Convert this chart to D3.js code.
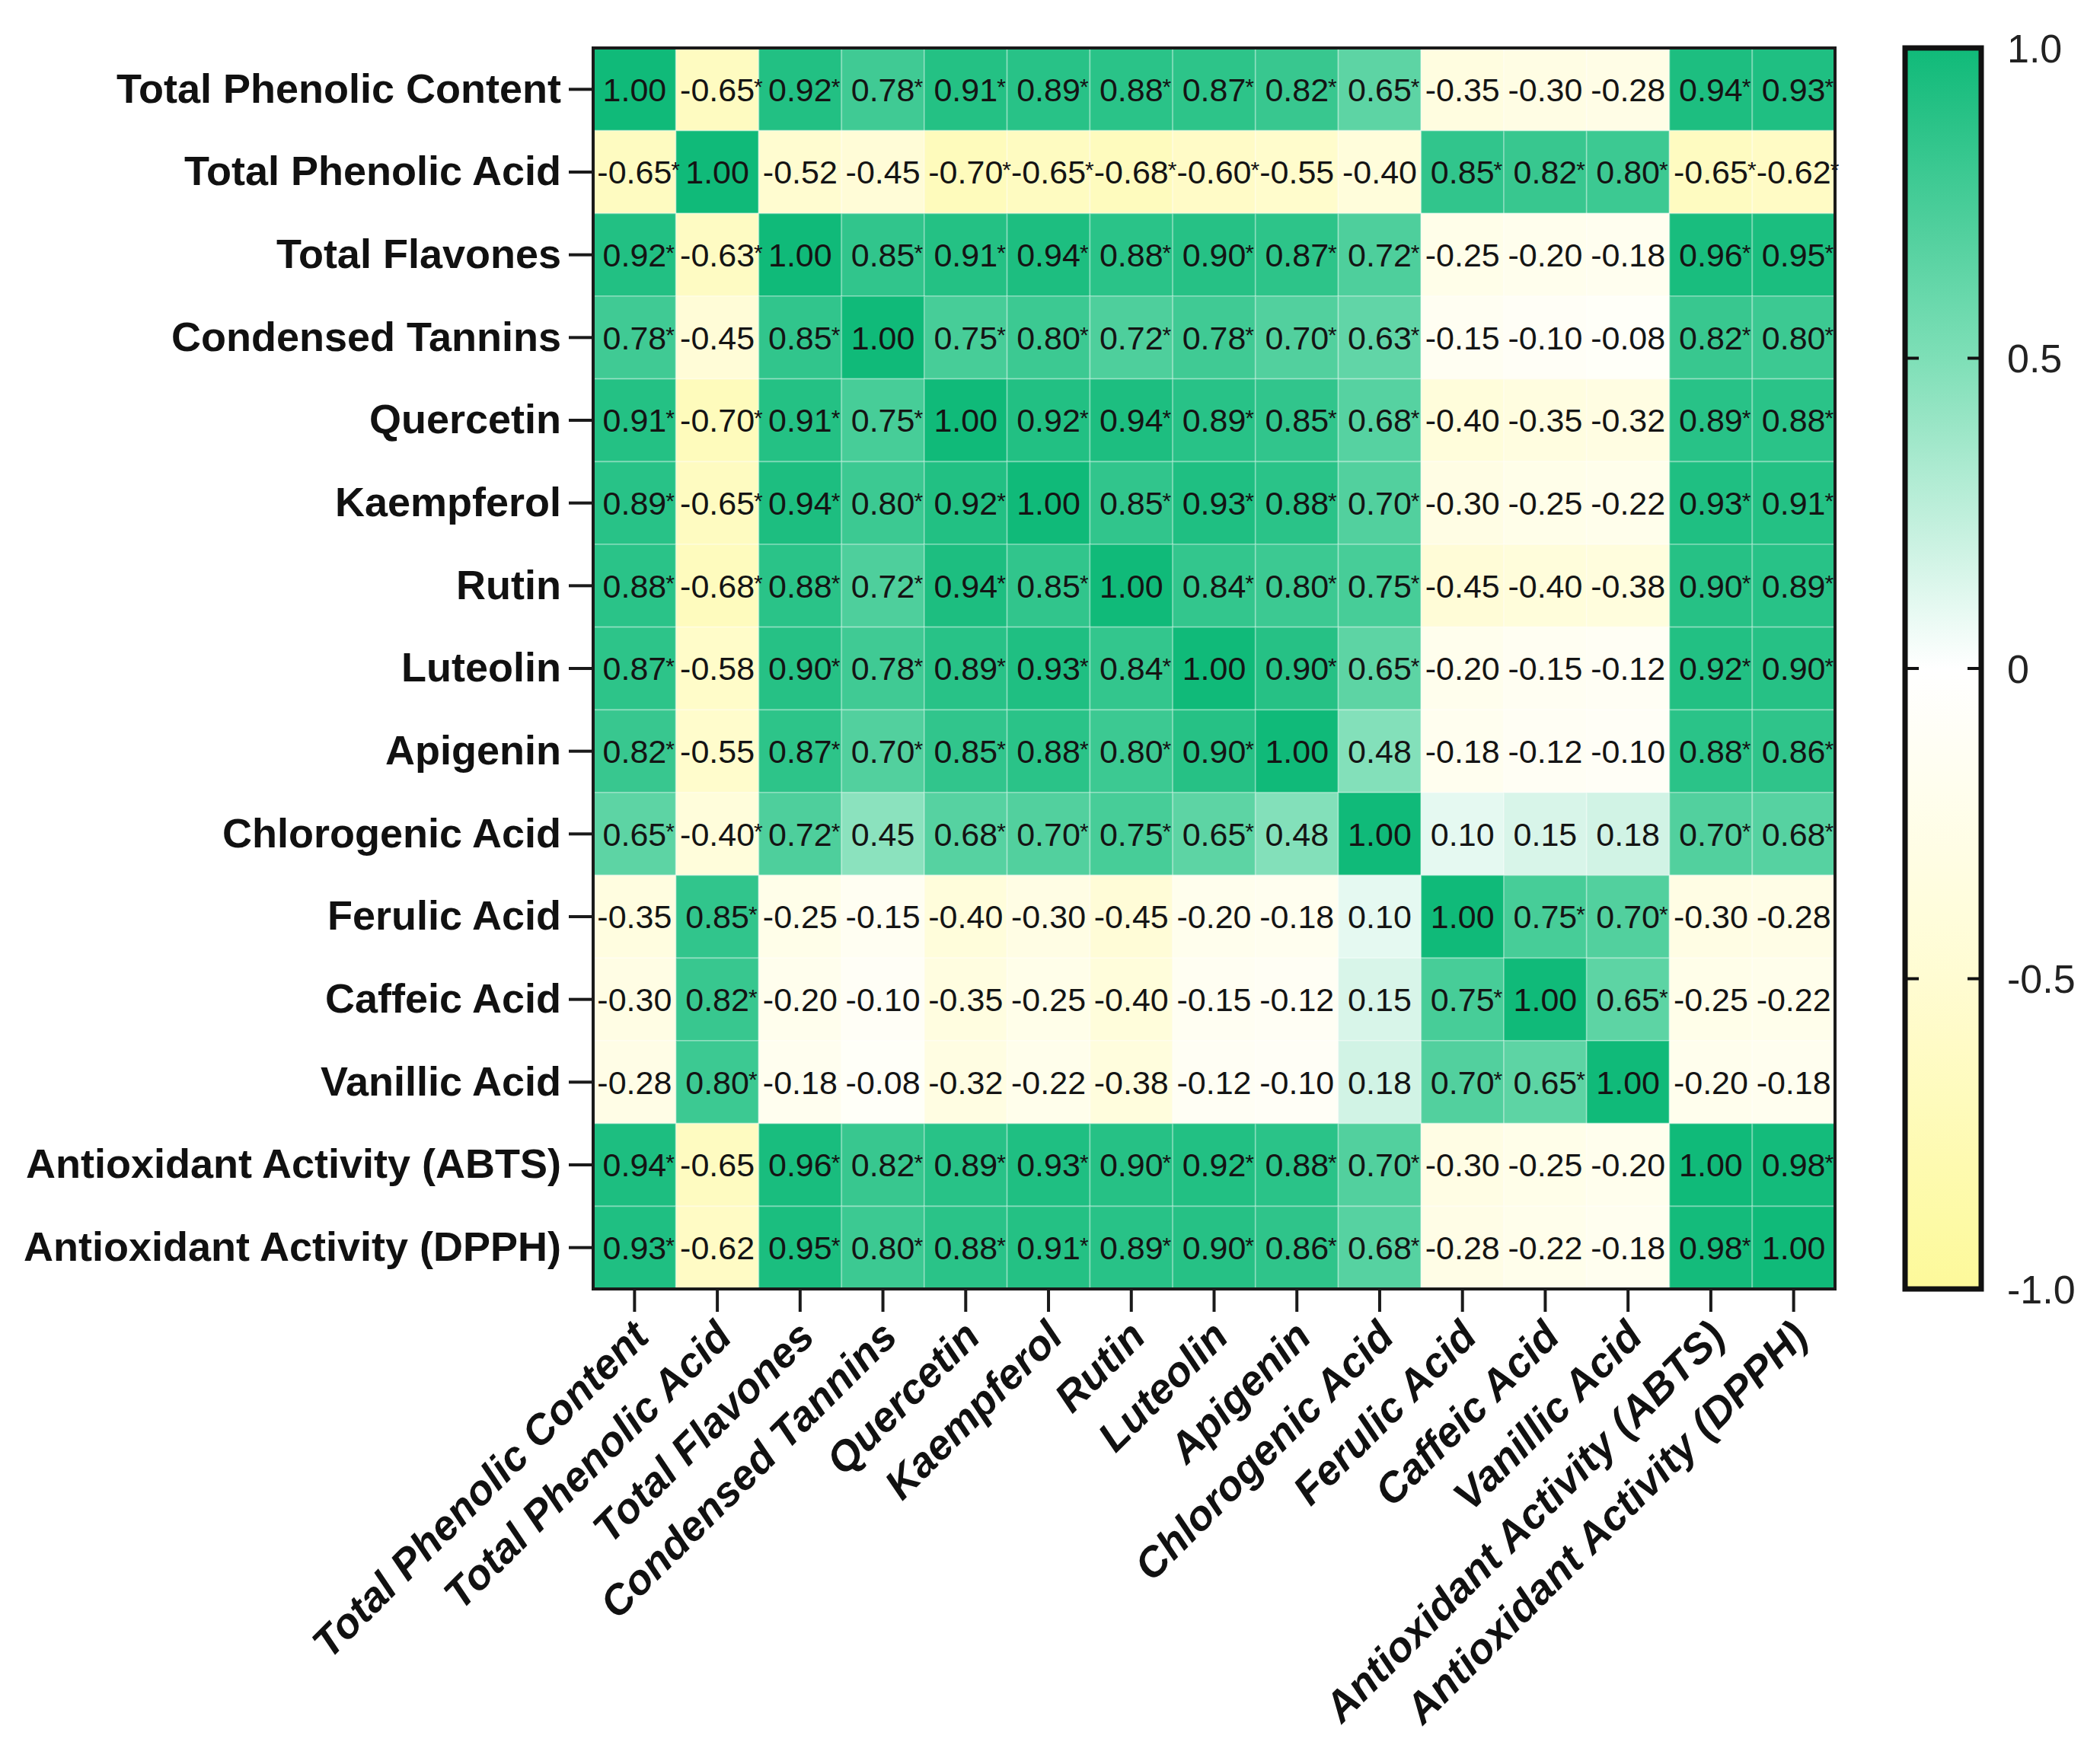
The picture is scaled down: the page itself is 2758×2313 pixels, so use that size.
<!DOCTYPE html>
<html lang="en">
<head>
    <meta charset="UTF-8">
    <title>Correlation heatmap</title>
    <script src="https://cdnjs.cloudflare.com/ajax/libs/d3/7.8.5/d3.min.js"></script>
    <style>
        body { margin: 0; background: #ffffff; }
    </style>
</head>
<body>

<div id="chart_holder"></div>

<script>
    var variables = ["Total Phenolic Content", "Total Phenolic Acid", "Total Flavones", "Condensed Tannins",
        "Quercetin", "Kaempferol", "Rutin", "Luteolin", "Apigenin", "Chlorogenic Acid",
        "Ferulic Acid", "Caffeic Acid", "Vanillic Acid", "Antioxidant Activity (ABTS)", "Antioxidant Activity (DPPH)"];

    // correlation values, one row per variable
    var corr = [
        [1.00, -0.65, 0.92, 0.78, 0.91, 0.89, 0.88, 0.87, 0.82, 0.65, -0.35, -0.30, -0.28, 0.94, 0.93],
        [-0.65, 1.00, -0.52, -0.45, -0.70, -0.65, -0.68, -0.60, -0.55, -0.40, 0.85, 0.82, 0.80, -0.65, -0.62],
        [0.92, -0.63, 1.00, 0.85, 0.91, 0.94, 0.88, 0.90, 0.87, 0.72, -0.25, -0.20, -0.18, 0.96, 0.95],
        [0.78, -0.45, 0.85, 1.00, 0.75, 0.80, 0.72, 0.78, 0.70, 0.63, -0.15, -0.10, -0.08, 0.82, 0.80],
        [0.91, -0.70, 0.91, 0.75, 1.00, 0.92, 0.94, 0.89, 0.85, 0.68, -0.40, -0.35, -0.32, 0.89, 0.88],
        [0.89, -0.65, 0.94, 0.80, 0.92, 1.00, 0.85, 0.93, 0.88, 0.70, -0.30, -0.25, -0.22, 0.93, 0.91],
        [0.88, -0.68, 0.88, 0.72, 0.94, 0.85, 1.00, 0.84, 0.80, 0.75, -0.45, -0.40, -0.38, 0.90, 0.89],
        [0.87, -0.58, 0.90, 0.78, 0.89, 0.93, 0.84, 1.00, 0.90, 0.65, -0.20, -0.15, -0.12, 0.92, 0.90],
        [0.82, -0.55, 0.87, 0.70, 0.85, 0.88, 0.80, 0.90, 1.00, 0.48, -0.18, -0.12, -0.10, 0.88, 0.86],
        [0.65, -0.40, 0.72, 0.45, 0.68, 0.70, 0.75, 0.65, 0.48, 1.00, 0.10, 0.15, 0.18, 0.70, 0.68],
        [-0.35, 0.85, -0.25, -0.15, -0.40, -0.30, -0.45, -0.20, -0.18, 0.10, 1.00, 0.75, 0.70, -0.30, -0.28],
        [-0.30, 0.82, -0.20, -0.10, -0.35, -0.25, -0.40, -0.15, -0.12, 0.15, 0.75, 1.00, 0.65, -0.25, -0.22],
        [-0.28, 0.80, -0.18, -0.08, -0.32, -0.22, -0.38, -0.12, -0.10, 0.18, 0.70, 0.65, 1.00, -0.20, -0.18],
        [0.94, -0.65, 0.96, 0.82, 0.89, 0.93, 0.90, 0.92, 0.88, 0.70, -0.30, -0.25, -0.20, 1.00, 0.98],
        [0.93, -0.62, 0.95, 0.80, 0.88, 0.91, 0.89, 0.90, 0.86, 0.68, -0.28, -0.22, -0.18, 0.98, 1.00]
    ];

    // 1 = value marked with an asterisk
    var stars = [
        [0,1,1,1,1,1,1,1,1,1,0,0,0,1,1],
        [1,0,0,0,1,1,1,1,0,0,1,1,1,1,1],
        [1,1,0,1,1,1,1,1,1,1,0,0,0,1,1],
        [1,0,1,0,1,1,1,1,1,1,0,0,0,1,1],
        [1,1,1,1,0,1,1,1,1,1,0,0,0,1,1],
        [1,1,1,1,1,0,1,1,1,1,0,0,0,1,1],
        [1,1,1,1,1,1,0,1,1,1,0,0,0,1,1],
        [1,0,1,1,1,1,1,0,1,1,0,0,0,1,1],
        [1,0,1,1,1,1,1,1,0,0,0,0,0,1,1],
        [1,1,1,0,1,1,1,1,0,0,0,0,0,1,1],
        [0,1,0,0,0,0,0,0,0,0,0,1,1,0,0],
        [0,1,0,0,0,0,0,0,0,0,1,0,1,0,0],
        [0,1,0,0,0,0,0,0,0,0,1,1,0,0,0],
        [1,0,1,1,1,1,1,1,1,1,0,0,0,0,1],
        [1,0,1,1,1,1,1,1,1,1,0,0,0,1,0]
    ];

    var legendTicks = [1.0, 0.5, 0, -0.5, -1.0];
    var legendLabels = ["1.0", "0.5", "0", "-0.5", "-1.0"];

    var width = 2758;
    var height = 2313;
    var font = "Arial, 'Liberation Sans', sans-serif";

    var svg = d3.select("#chart_holder")
        .append("svg")
        .attr("width", width)
        .attr("height", height);
    svg.append("rect")
        .attr("width", "100%")
        .attr("height", "100%")
        .attr("fill", "#ffffff");

    var x = d3.scaleBand().domain(variables).range([779, 2410]);
    var y = d3.scaleBand().domain(variables).range([63, 1693]);

    var color = d3.scaleLinear()
        .domain([-1, -0.5, 0, 0.5, 1])
        .range(["#fdf99a", "#fffcd2", "#ffffff", "#7edfb7", "#10ba79"])
        .clamp(true);

    var cells = [];
    for (var i = 0; i < variables.length; i++) {
        for (var j = 0; j < variables.length; j++) {
            cells.push({row: variables[i], col: variables[j], value: corr[i][j], star: stars[i][j]});
        }
    }

    svg.append("g")
        .selectAll("rect")
        .data(cells)
        .enter()
        .append("rect")
        .attr("x", function (d) { return x(d.col); })
        .attr("y", function (d) { return y(d.row); })
        .attr("width", x.bandwidth())
        .attr("height", y.bandwidth())
        .attr("fill", function (d) { return color(d.value); })
        .attr("stroke", "rgba(255,255,255,0.25)")
        .attr("stroke-width", 2);

    var labels = svg.append("g")
        .selectAll("g")
        .data(cells)
        .enter()
        .append("g")
        .attr("transform", function (d) {
            return "translate(" + (x(d.col) + x.bandwidth() / 2) + "," + (y(d.row) + y.bandwidth() / 2) + ")";
        });

    labels.append("text")
        .attr("class", "val")
        .attr("text-anchor", "middle")
        .attr("dy", "0.36em")
        .attr("font-family", font)
        .attr("font-size", 43)
        .attr("fill", "#141414")
        .text(function (d) { return d.value.toFixed(2); });

    // small raised asterisk right after the number
    labels.filter(function (d) { return d.star; })
        .append("text")
        .attr("x", function () {
            return this.parentNode.querySelector(".val").getComputedTextLength() / 2 - 1;
        })
        .attr("y", 7)
        .attr("font-family", font)
        .attr("font-size", 30)
        .attr("fill", "#141414")
        .text("*");

    // heatmap frame
    svg.append("rect")
        .attr("x", 779)
        .attr("y", 63)
        .attr("width", 2410 - 779)
        .attr("height", 1693 - 63)
        .attr("fill", "none")
        .attr("stroke", "#1a1a1a")
        .attr("stroke-width", 4);

    // y axis
    var yAxis = svg.append("g")
        .attr("transform", "translate(779,0)")
        .call(d3.axisLeft(y).tickSize(32).tickPadding(10));
    yAxis.select(".domain").remove();
    yAxis.selectAll(".tick line").attr("stroke", "#1a1a1a").attr("stroke-width", 4);
    yAxis.selectAll(".tick text")
        .attr("font-family", font)
        .attr("font-size", 54)
        .attr("font-weight", "bold")
        .attr("fill", "#111");

    // x axis
    var xAxis = svg.append("g")
        .attr("transform", "translate(0,1693)")
        .call(d3.axisBottom(x).tickSize(30).tickPadding(10));
    xAxis.select(".domain").remove();
    xAxis.selectAll(".tick line").attr("stroke", "#1a1a1a").attr("stroke-width", 4);
    xAxis.selectAll(".tick text")
        .attr("font-family", font)
        .attr("font-size", 55)
        .attr("font-weight", "bold")
        .attr("font-style", "italic")
        .attr("fill", "#111")
        .attr("text-anchor", "end")
        .attr("y", 0)
        .attr("dy", "0.35em")
        .attr("transform", "translate(8,52) rotate(-45)");

    // colour bar
    var cb = {x: 2502, w: 100};
    var cy = d3.scaleLinear().domain([1, -1]).range([63, 1693]);

    var grad = svg.append("defs")
        .append("linearGradient")
        .attr("id", "cbar")
        .attr("x1", 0).attr("y1", 0)
        .attr("x2", 0).attr("y2", 1);
    grad.selectAll("stop")
        .data(d3.range(0, 21))
        .enter()
        .append("stop")
        .attr("offset", function (d) { return (d / 20 * 100) + "%"; })
        .attr("stop-color", function (d) { return color(1 - d / 10); });

    svg.append("rect")
        .attr("x", cb.x)
        .attr("y", cy(1))
        .attr("width", cb.w)
        .attr("height", cy(-1) - cy(1))
        .attr("fill", "url(#cbar)")
        .attr("stroke", "#111")
        .attr("stroke-width", 7);

    var inner = legendTicks.filter(function (d) { return Math.abs(d) < 1; });
    svg.append("g")
        .selectAll("line.l")
        .data(inner)
        .enter()
        .append("line")
        .attr("x1", cb.x).attr("x2", cb.x + 18)
        .attr("y1", function (d) { return cy(d); })
        .attr("y2", function (d) { return cy(d); })
        .attr("stroke", "#111").attr("stroke-width", 4);
    svg.append("g")
        .selectAll("line.r")
        .data(inner)
        .enter()
        .append("line")
        .attr("x1", cb.x + cb.w - 18).attr("x2", cb.x + cb.w)
        .attr("y1", function (d) { return cy(d); })
        .attr("y2", function (d) { return cy(d); })
        .attr("stroke", "#111").attr("stroke-width", 4);

    svg.append("g")
        .selectAll("text")
        .data(legendTicks)
        .enter()
        .append("text")
        .attr("x", 2636)
        .attr("y", function (d) { return cy(d); })
        .attr("dy", "0.36em")
        .attr("font-family", font)
        .attr("font-size", 52)
        .attr("fill", "#222")
        .text(function (d, i) { return legendLabels[i]; });
</script>

</body>
</html>
